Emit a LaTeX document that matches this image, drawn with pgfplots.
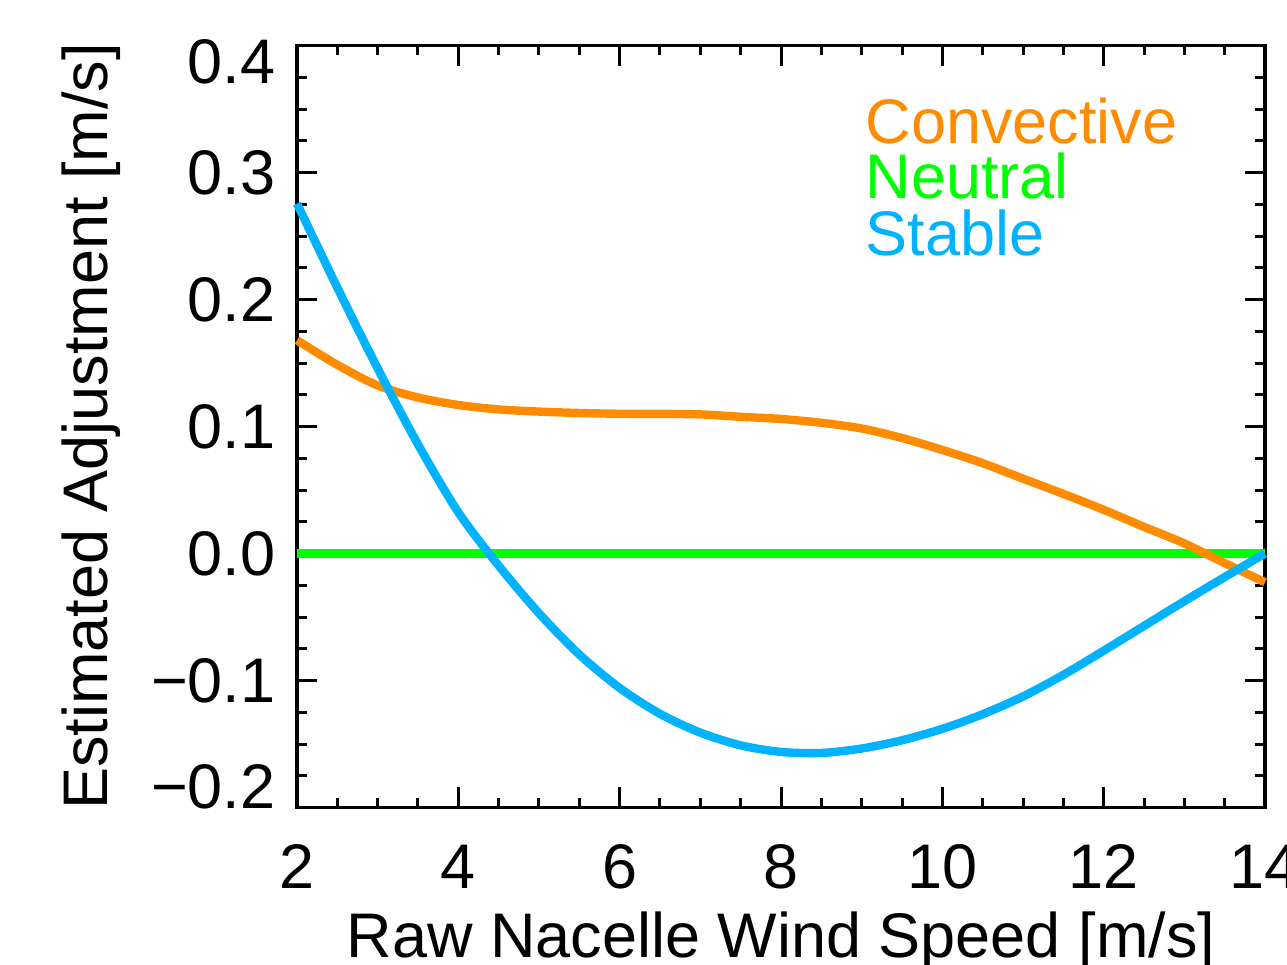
\documentclass[border=0pt]{standalone}
\usepackage{fontspec}
\setmainfont{Liberation Sans}
\usepackage{pgfplots}
\pgfplotsset{compat=1.18}

\definecolor{convorange}{RGB}{255,140,0}
\definecolor{neutgreen}{RGB}{0,255,0}
\definecolor{stabblue}{RGB}{0,178,255}

% Estimated adjustment by stability class
\pgfplotstableread{
ws     conv     stab
2.0    0.1680   0.2756
2.5    0.1486   0.2094
3.0    0.1324   0.1458
3.5    0.1229   0.0860
4.0    0.1170   0.0325
4.5    0.1135  -0.0095
5.0    0.1118  -0.0470
5.5    0.1107  -0.0795
6.0    0.1101  -0.1058
6.5    0.1100  -0.1262
7.0    0.1096  -0.1410
7.5    0.1077  -0.1510
8.0    0.1060  -0.1562
8.5    0.1030  -0.1570
9.0    0.0985  -0.1535
9.5    0.0910  -0.1470
10.0   0.0816  -0.1380
10.5   0.0712  -0.1265
11.0   0.0590  -0.1125
11.5   0.0470  -0.0955
12.0   0.0345  -0.0765
12.5   0.0210  -0.0570
13.0   0.0080  -0.0375
13.5  -0.0075  -0.0185
14.0  -0.0226   0.0000
}\adjtable

\begin{document}
\fontsize{21}{25}\selectfont
\begin{tikzpicture}
\begin{axis}[
  scale only axis,
  width=322.67pt, height=254pt,
  xmin=2, xmax=14, ymin=-0.2, ymax=0.4,
  xtick={2,4,6,8,10,12,14},
  xticklabels={2,4,6,8,10,12,14},
  ytick={-0.2,-0.1,0,0.1,0.2,0.3,0.4},
  yticklabels={{\raisebox{7pt}[\height][\depth]{−0.2}},{−0.1},{0.0},{0.1},{0.2},{0.3},{\raisebox{-5.5pt}[\height][\depth]{0.4}}},
  minor x tick num=3, minor y tick num=3,
  tick align=inside,
  major tick length=6.7pt, minor tick length=3.3pt,
  every tick/.style={black, line width=1pt},
  axis line style={line width=1.2pt},
  ticklabel style={font=\fontsize{21}{25}\selectfont},
  label style={font=\fontsize{21}{25}\selectfont},
  xticklabel style={anchor=base, yshift=-27pt},
  xlabel={Raw Nacelle Wind Speed [m/s]},
  ylabel={Estimated Adjustment [m/s]},
  xlabel style={at={(axis description cs:0.5,-0.1969)}, anchor=base},
  ylabel style={at={(axis description cs:-0.196,0.5)}, anchor=base, rotate=0},
  clip=false,
]
% Neutral
\addplot[neutgreen, line width=2.8pt] coordinates {(2,0) (14,0)};
% Convective
\addplot[convorange, line width=2.8pt, smooth] table[x=ws, y=conv] {\adjtable};
% Stable
\addplot[stabblue, line width=2.8pt, smooth] table[x=ws, y=stab] {\adjtable};
\node[anchor=base west, inner sep=0, text=convorange] at (rel axis cs:0.5868,0.8714) {Convective};
\node[anchor=base west, inner sep=0, text=neutgreen] at (rel axis cs:0.5868,0.7992) {Neutral};
\node[anchor=base west, inner sep=0, text=stabblue] at (rel axis cs:0.5868,0.7244) {Stable};
\end{axis}
\pgfresetboundingbox
\path[use as bounding box]
  ([xshift=-99pt,yshift=-52.33pt]current axis.south west) rectangle
  ([xshift=7.33pt,yshift=15.2pt]current axis.north east);
\end{tikzpicture}
\end{document}
